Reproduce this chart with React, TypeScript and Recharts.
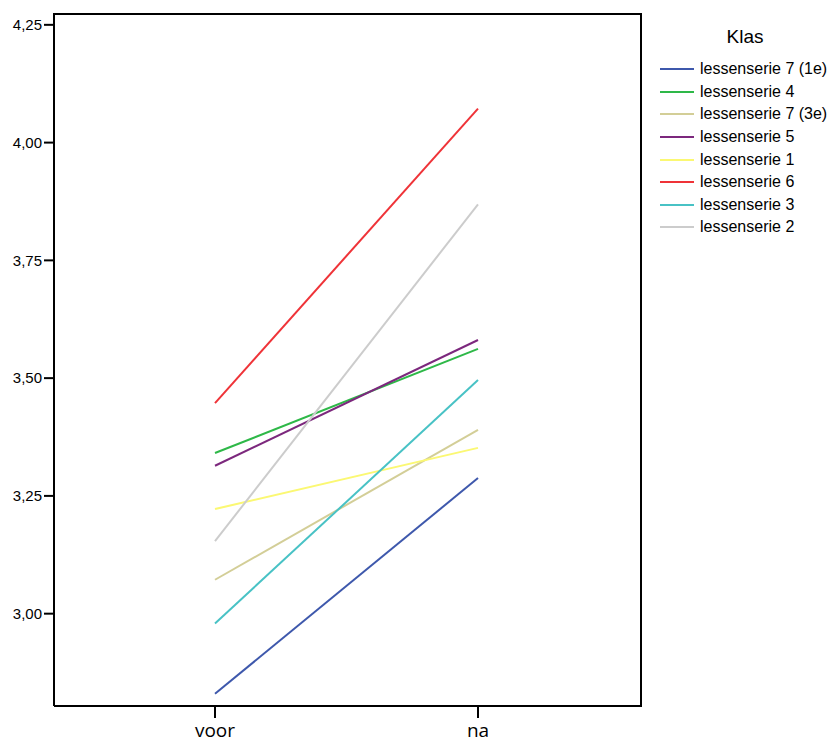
import { Line, LineChart, XAxis, YAxis } from "recharts";

const moments = ["voor", "na"];
const seriesNames = [
  "lessenserie 7 (1e)",
  "lessenserie 4",
  "lessenserie 7 (3e)",
  "lessenserie 5",
  "lessenserie 1",
  "lessenserie 6",
  "lessenserie 3",
  "lessenserie 2",
];
const voorValues = [2.83, 3.341, 3.072, 3.314, 3.222, 3.447, 2.979, 3.154];
const naValues = [3.288, 3.562, 3.39, 3.581, 3.352, 4.072, 3.496, 3.869];
const seriesColors = [
  "#3e58ac",
  "#2eb848",
  "#d3ce97",
  "#7c287d",
  "#fbf873",
  "#ef3338",
  "#48c2c5",
  "#cccccc",
];
const yTicks = [3.0, 3.25, 3.5, 3.75, 4.0, 4.25];

const data = moments.map((m, i) => {
  const row: Record<string, string | number> = { name: m };
  seriesNames.forEach((s, j) => {
    row[s] = i === 0 ? voorValues[j] : naValues[j];
  });
  return row;
});

const fmt = (v: number) => v.toFixed(2).replace(".", ",");

export default function App() {
  return (
    <div style={{ position: "absolute", left: 0, top: 0, width: 830, height: 743 }}>
      <LineChart
        width={830}
        height={743}
        data={data}
        margin={{ top: 14, right: 189, bottom: 0, left: 0 }}
      >
        <XAxis
          dataKey="name"
          padding={{ left: 161, right: 163 }}
          stroke="#000"
          strokeWidth={2}
          tickSize={12}
          tickMargin={6}
          height={37}
          fontSize={19}
          fontFamily="'Open Sans', sans-serif"
          tick={{ fill: "#000" }}
        />
        <YAxis
          type="number"
          domain={[2.804, 4.273]}
          ticks={yTicks}
          tickFormatter={fmt}
          width={54}
          stroke="#000"
          strokeWidth={2}
          tickSize={10}
          tickMargin={2}
          fontSize={15}
          fontFamily="'Liberation Sans', Arial, sans-serif"
          tick={{ fill: "#000" }}
          allowDataOverflow
        />
        {seriesNames.map((s, i) => (
          <Line
            key={s}
            dataKey={s}
            stroke={seriesColors[i]}
            strokeWidth={2}
            dot={false}
            activeDot={false}
            isAnimationActive={false}
          />
        ))}
      </LineChart>
      {/* frame: top and right edges of the plot box */}
      <div
        style={{
          position: "absolute",
          left: 53,
          top: 13,
          width: 587,
          height: 692,
          borderTop: "2px solid #000",
          borderRight: "2px solid #000",
          pointerEvents: "none",
        }}
      />
      <div
        style={{
          position: "absolute",
          left: 655,
          top: 26,
          fontFamily: "'Liberation Sans', Arial, sans-serif",
          color: "#000",
        }}
      >
        <div style={{ width: 180, textAlign: "center", fontSize: 19, marginBottom: 10 }}>Klas</div>
        {seriesNames.map((s, i) => (
          <div
            key={s}
            style={{ display: "flex", alignItems: "center", height: 22.6, fontSize: 16 }}
          >
            <svg width={40} height={4} style={{ marginRight: 5 }}>
              <line x1={5} y1={2} x2={39} y2={2} stroke={seriesColors[i]} strokeWidth={2} />
            </svg>
            <span>{s}</span>
          </div>
        ))}
      </div>
    </div>
  );
}
